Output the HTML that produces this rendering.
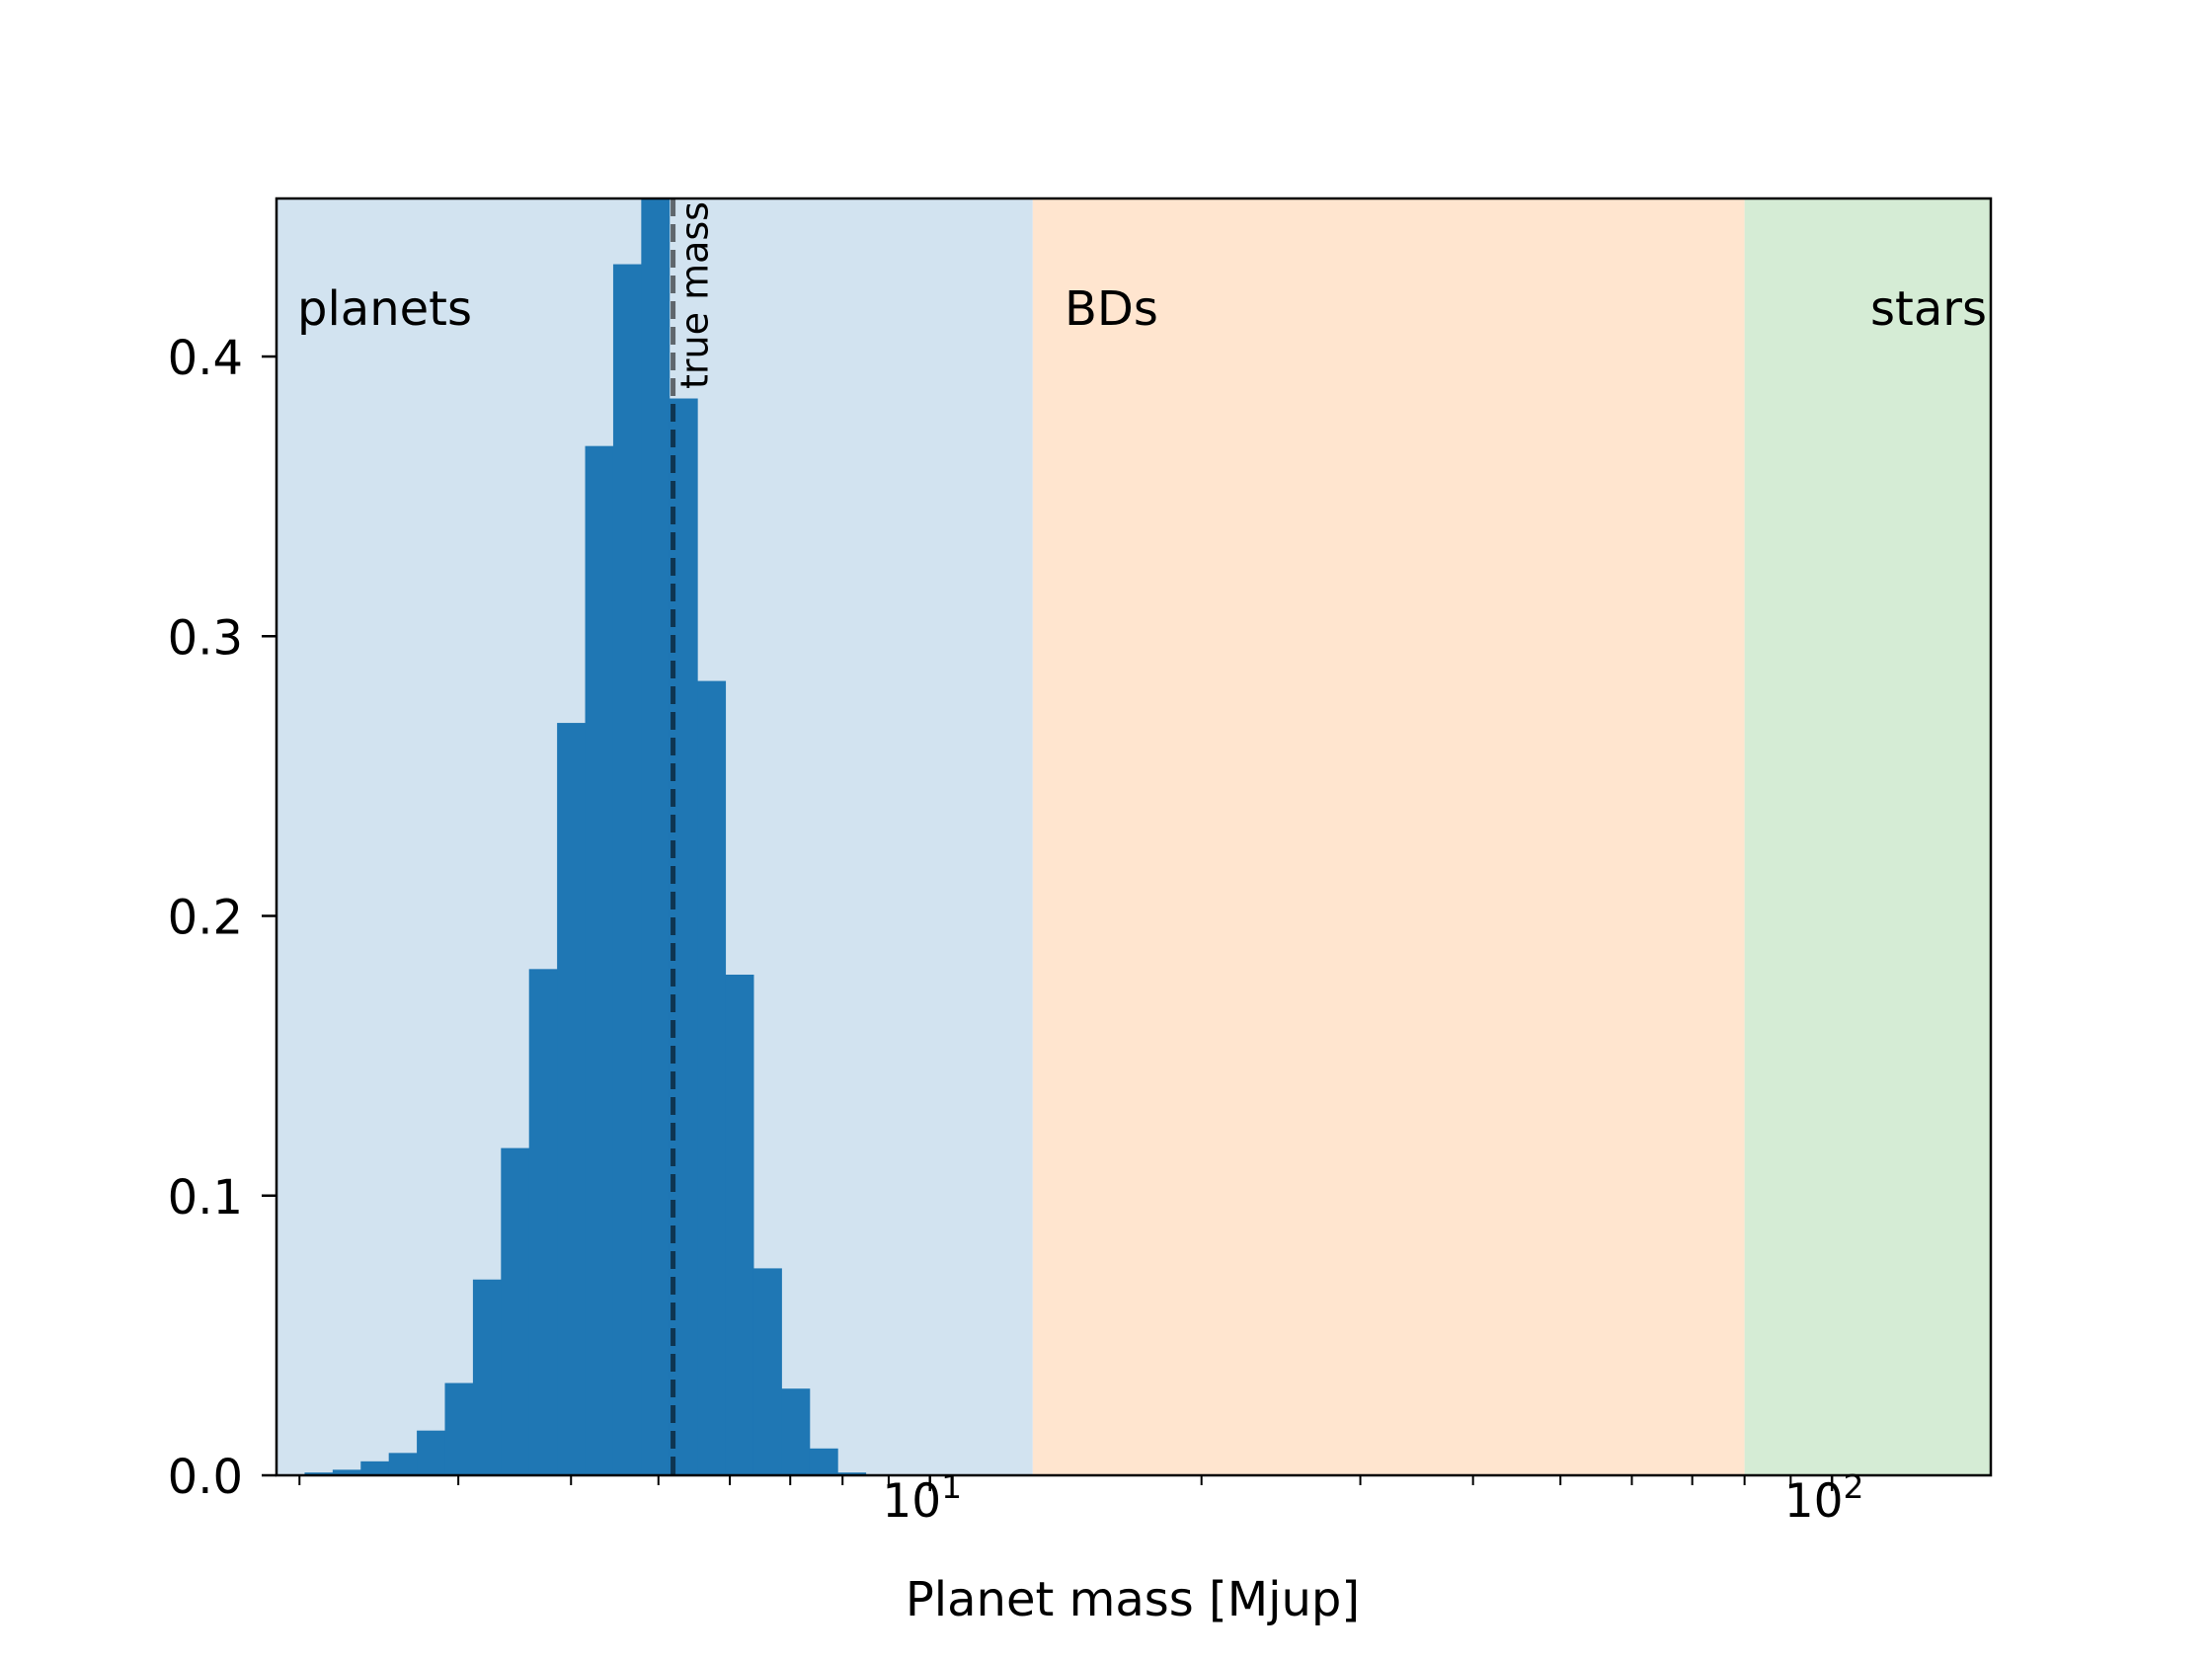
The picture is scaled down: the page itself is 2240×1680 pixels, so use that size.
<!DOCTYPE html>
<html><head><meta charset="utf-8"><style>body{margin:0;background:#fff}svg{display:block;font-family:"DejaVu Sans","Liberation Sans",sans-serif}</style></head>
<body>
<svg id="chart" width="2240" height="1680" viewBox="0 0 2240 1680">
<g id="bands"></g><g id="bars"></g><g id="overlay"></g><g id="axes"></g>
</svg>
<script>
const binStartLog = 0.3067;
const binWidthLog = 0.0311;
const binHeights = [0.001,0.002,0.005,0.008,0.016,0.033,0.070,0.117,0.181,0.269,0.368,0.433,0.47,0.385,0.284,0.179,0.074,0.031,0.0096,0.001];
const regionNames = ["planets","BDs","stars"];
const regionEdges = [1.886,13,80,150];
const regionColors = ["#d2e3f0","#ffe5cf","#d5ecd5"];
const trueMass = 5.19;
const yTicks = [0,0.1,0.2,0.3,0.4];
const xMajor = [10,100];
const xMinor = [2,3,4,5,6,7,8,9,20,30,40,50,60,70,80,90];
const xMin = 1.886, xMax = 150, yMax = 0.4565;
const L=280,R=2016,T=201,B=1494;
const NS="http://www.w3.org/2000/svg";
const xs = v => L + (Math.log10(v)-Math.log10(xMin))/(Math.log10(xMax)-Math.log10(xMin))*(R-L);
const xl = lg => xs(Math.pow(10,lg));
const ys = v => B - v/yMax*(B-T);
function mk(tag, attrs, parent){const e=document.createElementNS(NS,tag);for(const k in attrs)e.setAttribute(k,attrs[k]);document.getElementById(parent).appendChild(e);return e;}
regionNames.forEach((n,i)=>{
  const r=mk('rect',{x:xs(regionEdges[i]),y:T,width:xs(regionEdges[i+1])-xs(regionEdges[i]),height:B-T,fill:regionColors[i]},'bands');
  
  
});
binHeights.forEach((h,i)=>{
  const x0=xl(binStartLog+i*binWidthLog), x1=xl(binStartLog+(i+1)*binWidthLog);
  const y0=Math.max(ys(h),T);
  const r=mk('rect',{x:x0,y:y0,width:x1-x0+0.5,height:B-y0,fill:"#1f77b4"},'bars');
  
  
});
const tl=mk('line',{x1:xs(trueMass),x2:xs(trueMass),y1:T,y2:B,stroke:"#000","stroke-opacity":0.55,"stroke-width":5,"stroke-dasharray":"18,8"},'overlay');


const tt=mk('text',{x:0,y:0,"font-size":38,transform:`translate(${xs(trueMass)+35},394) rotate(-90)`},'overlay');
tt.textContent="true mass";


const labPos=[[301,"start"],[1078,"start"],[2012,"end"]];
regionNames.forEach((n,i)=>{
  const t=mk('text',{x:labPos[i][0],y:329,"font-size":48,"text-anchor":labPos[i][1]},'overlay');
  t.textContent=n;
  
  
});
const fr=mk('rect',{x:L,y:T,width:R-L,height:B-T,fill:"none",stroke:"#000","stroke-width":2.5},'axes');


yTicks.forEach(v=>{
  mk('line',{x1:L-15,x2:L,y1:ys(v),y2:ys(v),stroke:"#000","stroke-width":2.5},'axes');
  const t=mk('text',{x:L-34,y:ys(v)+18,"font-size":48,"text-anchor":"end"},'axes');
  t.textContent=v.toFixed(1);
  
  
});
xMinor.forEach(v=>{ if(v>=xMin&&v<=xMax) mk('line',{x1:xs(v),x2:xs(v),y1:B,y2:B+10,stroke:"#000","stroke-width":2},'axes');});
xMajor.forEach(v=>{
  mk('line',{x1:xs(v),x2:xs(v),y1:B,y2:B+16,stroke:"#000","stroke-width":2.5},'axes');
  const t=mk('text',{x:xs(v)-8,y:1536,"font-size":47,"text-anchor":"middle"},'axes');
  t.innerHTML='10<tspan font-size="33" dy="-19">'+Math.round(Math.log10(v))+'</tspan>';
  
  
});
const xt=mk('text',{x:1147,y:1636,"font-size":48,"text-anchor":"middle"},'axes');
xt.textContent="Planet mass [Mjup]";


</script>
</body></html>
